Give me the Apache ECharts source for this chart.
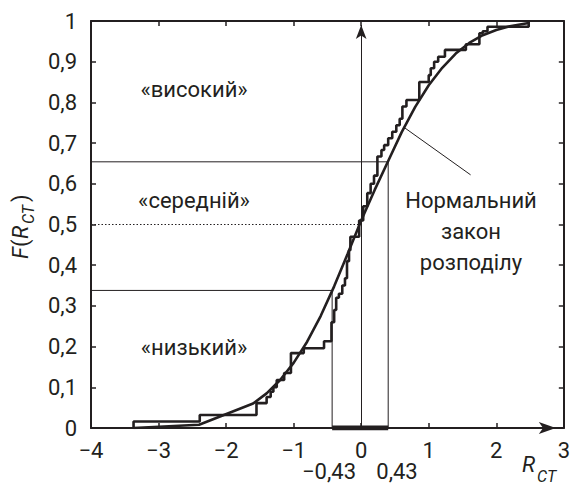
<!DOCTYPE html>
<html><head><meta charset="utf-8">
<script src="https://cdn.jsdelivr.net/npm/echarts@6/dist/echarts.min.js"></script>
<style>html,body{margin:0;padding:0;background:#fff}#c{width:573px;height:486px}</style>
</head><body><div id="c"></div>
<script>
// ---- data ----
const xMin = -4, xMax = 3, xStep = 1;
const yMin = 0, yMax = 1, yStep = 0.1;
// empirical distribution: jump positions and level after each jump
const ecdfX = [-3.37, -3.37, -2.39, -1.55, -1.40, -1.34, -1.30, -1.25, -1.14, -1.04, -0.85, -0.55, -0.44, -0.40, -0.37, -0.33, -0.28, -0.24, -0.21, -0.18, -0.16, -0.03, 0.03, 0.09, 0.14, 0.19, 0.24, 0.30, 0.34, 0.40, 0.46, 0.52, 0.57, 0.61, 0.67, 0.86, 1.00, 1.03, 1.08, 1.14, 1.24, 1.55, 1.75, 1.80, 1.87, 2.48];
const ecdfY = [0, 0.016, 0.032, 0.061, 0.076, 0.089, 0.100, 0.118, 0.135, 0.184, 0.196, 0.213, 0.260, 0.290, 0.320, 0.330, 0.350, 0.368, 0.410, 0.437, 0.470, 0.510, 0.545, 0.577, 0.600, 0.620, 0.667, 0.683, 0.695, 0.712, 0.728, 0.744, 0.760, 0.790, 0.806, 0.850, 0.867, 0.884, 0.900, 0.912, 0.929, 0.943, 0.970, 0.975, 0.986, 1.000];
// normal distribution curve points
const normX = [-3.37, -2.4, -1.6, -1.4, -1.2, -1.0, -0.8, -0.6, -0.4, -0.2, 0, 0.2, 0.4, 0.6, 0.8, 1.0, 1.2, 1.4, 1.6, 1.8, 2.0, 2.2, 2.48];
const normY = [0, 0.008, 0.060, 0.085, 0.118, 0.160, 0.212, 0.275, 0.348, 0.428, 0.510, 0.585, 0.656, 0.727, 0.789, 0.842, 0.885, 0.920, 0.946, 0.965, 0.978, 0.987, 0.995];
const lowBound = -0.43, highBound = 0.40;
const lowLevel = 0.338, midLevel = 0.5, highLevel = 0.654;
const boundLabels = ['−0,43', '0,43'];
const zoneLabels = ['«високий»', '«середній»', '«низький»'];
const curveLabel = ['Нормальний', 'закон', 'розподілу'];
const leader = [[0.64, 0.738], [1.62, 0.622]];

const C = '#231f20';
const FONT = 'Roboto';
const FS = 22;
const zip = (a, b) => a.map((v, i) => [v, b[i]]);
const fmtX = v => (v < 0 ? '−' + Math.abs(v) : String(v));
const fmtY = v => String(+(+v).toFixed(1)).replace('.', ',');

const chart = echarts.init(document.getElementById('c'), null, {renderer: 'svg'});
const axisCommon = {
  type: 'value', min: xMin, max: xMax, interval: xStep,
  splitLine: {show: false},
  axisTick: {show: true, inside: true, length: 5, lineStyle: {color: C, width: 1.5}},
};
const seg = (data, w, extra) => Object.assign({
  type: 'line', data: data, symbol: 'none', silent: true, animation: false,
  lineStyle: {color: C, width: w}, z: 3
}, extra || {});

chart.setOption({
  animation: false,
  grid: {left: 91, right: 6, top: 21, bottom: 58},
  xAxis: [
    Object.assign({}, axisCommon, {
      position: 'bottom',
      axisLine: {show: true, onZero: false, lineStyle: {color: C, width: 2},
        symbol: ['none', 'arrow'], symbolSize: [9, 17], symbolOffset: [0, -8]},
      axisLabel: {show: true, margin: 11, color: C, fontSize: FS, fontFamily: FONT, formatter: fmtX}
    }),
    Object.assign({}, axisCommon, {
      position: 'top',
      axisLine: {show: true, onZero: false, lineStyle: {color: C, width: 2}},
      axisLabel: {show: false}
    })
  ],
  yAxis: [
    Object.assign({}, axisCommon, {
      min: yMin, max: yMax, interval: yStep, position: 'left',
      axisLine: {show: true, onZero: false, lineStyle: {color: C, width: 2}},
      axisLabel: {show: true, margin: 14, color: C, fontSize: FS, fontFamily: FONT, formatter: fmtY}
    }),
    Object.assign({}, axisCommon, {
      min: yMin, max: yMax, interval: yStep, position: 'right',
      axisLine: {show: true, onZero: false, lineStyle: {color: C, width: 2}},
      axisLabel: {show: false}
    })
  ],
  series: [
    seg([[xMin, highLevel], [highBound, highLevel], [highBound, yMin]], 1),
    seg([[xMin, lowLevel], [lowBound, lowLevel], [lowBound, yMin]], 1),
    seg([[xMin, midLevel], [0, midLevel]], 1.2, {lineStyle: {color: C, width: 1.2, type: [1.5, 2]}}),
    seg(leader, 1),
    seg(zip(ecdfX, ecdfY), 2.6, {step: 'end', z: 5}),
    seg(zip(normX, normY), 2.6, {z: 5}),
    seg([[lowBound, yMin], [highBound, yMin]], 5, {z: 6,
      markLine: {silent: true, symbol: ['none', 'arrow'], symbolSize: [8, 14],
        label: {show: false}, lineStyle: {color: C, width: 1, type: 'solid'},
        data: [[{coord: [0, yMin]}, {coord: [0, 0.99]}]]}
    })
  ],
  graphic: [
    ...zoneLabels.map((t, i) => ({type: 'text', x: 194, y: [89, 200, 347][i],
      style: {text: t, font: FS + 'px ' + FONT, fill: C, textAlign: 'center', textVerticalAlign: 'middle'}})),
    ...curveLabel.map((t, i) => ({type: 'text', x: 471, y: 200 + i * 31,
      style: {text: t, font: FS + 'px ' + FONT, fill: C, textAlign: 'center', textVerticalAlign: 'middle'}})),
    {type: 'text', x: 329, y: 471, style: {text: boundLabels[0], font: FS + 'px ' + FONT, fill: C, textAlign: 'center', textVerticalAlign: 'middle'}},
    {type: 'text', x: 397, y: 471, style: {text: boundLabels[1], font: FS + 'px ' + FONT, fill: C, textAlign: 'center', textVerticalAlign: 'middle'}},
    {type: 'text', x: 522, y: 475, style: {text: 'R', font: 'italic ' + FS + 'px ' + FONT, fill: C, textAlign: 'left', textVerticalAlign: 'bottom'}},
    {type: 'text', x: 537, y: 484, style: {text: 'CT', font: 'italic 16px ' + FONT, fill: C, textAlign: 'left', textVerticalAlign: 'bottom'}},
    {type: 'group', x: 31, y: 259, rotation: Math.PI / 2, children: [
      {type: 'text', x: 0, y: 0, style: {text: 'F', font: 'italic ' + FS + 'px ' + FONT, fill: C, textVerticalAlign: 'bottom'}},
      {type: 'text', x: 12, y: 0, style: {text: '(', font: FS + 'px ' + FONT, fill: C, textVerticalAlign: 'bottom'}},
      {type: 'text', x: 20, y: 0, style: {text: 'R', font: 'italic ' + FS + 'px ' + FONT, fill: C, textVerticalAlign: 'bottom'}},
      {type: 'text', x: 35, y: 5, style: {text: 'CT', font: 'italic 16px ' + FONT, fill: C, textVerticalAlign: 'bottom'}},
      {type: 'text', x: 57, y: 0, style: {text: ')', font: FS + 'px ' + FONT, fill: C, textVerticalAlign: 'bottom'}}
    ]}
  ]
});
</script></body></html>
